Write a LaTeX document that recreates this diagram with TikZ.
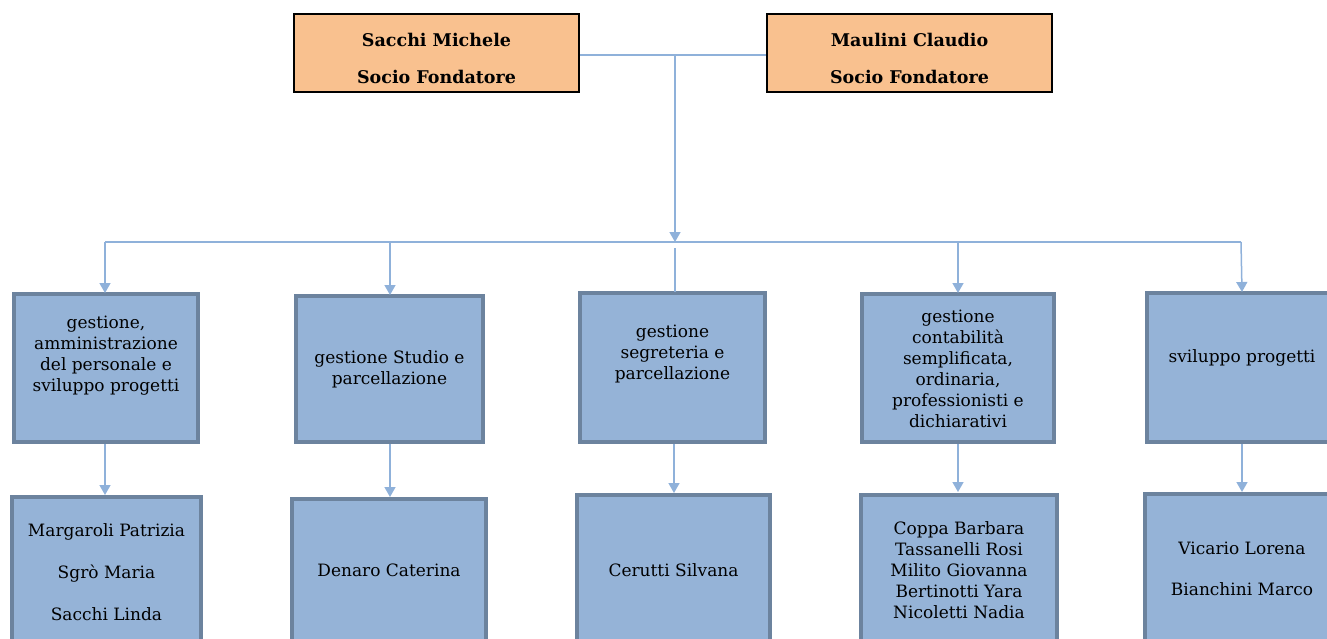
\documentclass[tikz,border=0pt]{standalone}
\usepackage{fontspec}
\setmainfont{DejaVu Serif}
\usetikzlibrary{arrows.meta,calc}
\definecolor{orangefill}{HTML}{F9C18F}
\definecolor{bluefill}{HTML}{95B3D7}
\definecolor{blueedge}{HTML}{6C839E}
\definecolor{connblue}{HTML}{8FB1DA}
\tikzset{
  topbox/.style={draw=black, line width=2.5pt, fill=orangefill, inner sep=0pt},
  midbox/.style={draw=blueedge, line width=4pt, fill=bluefill, inner sep=0pt},
  toptext/.style={font=\fontsize{17.5}{37}\selectfont\bfseries, align=center, inner sep=0pt},
  boxtext/.style={font=\fontsize{17}{21}\selectfont, align=center, inner sep=0pt},
  conn/.style={draw=connblue, line width=1.5pt},
  arr/.style={conn, -{Triangle[width=11pt,length=10pt]}, color=connblue},
}
\begin{document}
\begin{tikzpicture}[x=1pt,y=-1pt]
\useasboundingbox (0,0) rectangle (1327,638);
\clip (0,0) rectangle (1327,638);
% top boxes
\node[topbox, minimum width=285, minimum height=78] (s1) at (436.5,53) {};
\node[topbox, minimum width=285, minimum height=78] (s2) at (909.5,53) {};
\node[toptext] (s1t) at (436.5,58.5) {Sacchi Michele\\Socio Fondatore};
\node[toptext] (s2t) at (909.5,58.5) {Maulini Claudio\\Socio Fondatore};
% middle boxes
\node[midbox, minimum width=184, minimum height=148] (m1) at (106,368) {};
\node[midbox, minimum width=187, minimum height=146] (m2) at (389.5,369) {};
\node[midbox, minimum width=185, minimum height=149] (m3) at (672.5,367.5) {};
\node[midbox, minimum width=192, minimum height=148] (m4) at (958,368) {};
\node[midbox, minimum width=187, minimum height=149] (m5) at (1240.5,367.5) {};
\node[boxtext] (m1t) at (106,356) {gestione,\\amministrazione\\del personale e\\sviluppo progetti};
\node[boxtext] (m2t) at (389.5,369.5) {gestione Studio e\\parcellazione};
\node[boxtext] (m3t) at (672.5,354.5) {gestione\\segreteria e\\parcellazione};
\node[boxtext] (m4t) at (958,368.5) {gestione\\contabilità\\semplificata,\\ordinaria,\\professionisti e\\dichiarativi};
\node[boxtext] (m5t) at (1242,358) {sviluppo progetti};
% bottom boxes
\node[midbox, minimum width=189, minimum height=170, anchor=north] (b1) at (106.5,495) {};
\node[midbox, minimum width=194, minimum height=170, anchor=north] (b2) at (389,497) {};
\node[midbox, minimum width=193, minimum height=170, anchor=north] (b3) at (673.5,493) {};
\node[midbox, minimum width=196, minimum height=170, anchor=north] (b4) at (959,493) {};
\node[midbox, minimum width=190, minimum height=170, anchor=north] (b5) at (1240,492) {};
\node[boxtext, font=\fontsize{17}{42}\selectfont] (b1t) at (106.5,572) {Margaroli Patrizia\\Sgrò Maria\\Sacchi Linda};
\node[boxtext] (b2t) at (389,570) {Denaro Caterina};
\node[boxtext] (b3t) at (673.5,570) {Cerutti Silvana};
\node[boxtext] (b4t) at (959,570) {Coppa Barbara\\Tassanelli Rosi\\Milito Giovanna\\Bertinotti Yara\\Nicoletti Nadia};
\node[boxtext, font=\fontsize{17}{41}\selectfont] (b5t) at (1242,568.5) {Vicario Lorena\\Bianchini Marco};
% connectors
\coordinate (j) at (675,55);
\draw[conn] (s1.east |- j) -- (s2.west |- j);
\coordinate (bus) at (675,242);
\draw[arr] (j) -- (bus);
\coordinate (busL) at (105,242);
\coordinate (busR) at (1241,242);
\draw[conn] (busL) -- (busR);
\draw[arr] (busL) -- (105,293);
\draw[arr] (390,242) -- (390,295);
\coordinate (c3) at (675,248);
\draw[conn] (c3) -- (675,292);
\draw[arr] (958,242) -- (958,293);
\draw[arr] (busR) -- (1242,292);
% middle to bottom
\draw[arr] (m1.south -| 105,0) -- (105,495);
\draw[arr] (m2.south -| 390,0) -- (390,497);
\draw[arr] (m3.south -| 674,0) -- (674,493);
\draw[arr] (m4.south -| 958,0) -- (958,492);
\draw[arr] (m5.south -| 1242,0) -- (1242,492);
\end{tikzpicture}
\end{document}
